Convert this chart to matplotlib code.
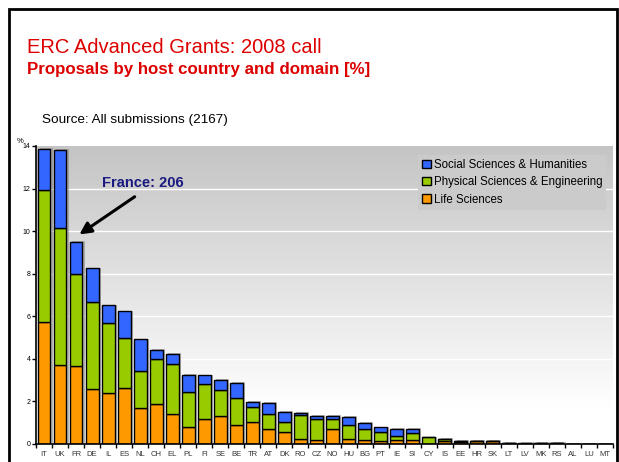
import numpy as np
import matplotlib
matplotlib.use("Agg")
import matplotlib.pyplot as plt
from matplotlib.patches import Patch, Rectangle

plt.rcParams['font.family'] = ['Liberation Sans', 'DejaVu Sans']

countries = ["IT", "UK", "FR", "DE", "IL", "ES", "NL", "CH", "EL", "PL", "FI", "SE",
             "BE", "TR", "AT", "DK", "RO", "CZ", "NO", "HU", "BG", "PT", "IE", "SI",
             "CY", "IS", "EE", "HR", "SK", "LT", "LV", "MK", "RS", "AL", "LU", "MT"]

# shares of all submissions [%]
life = [5.71, 3.72, 3.65, 2.58, 2.38, 2.61, 1.67, 1.89, 1.42, 0.78, 1.16, 1.31,
        0.91, 1.05, 0.69, 0.56, 0.23, 0.19, 0.69, 0.23, 0.17, 0.13, 0.17, 0.17,
        0.0, 0.14, 0.08, 0.14, 0.14, 0.0, 0.0, 0.0, 0.05, 0.0, 0.0, 0.0]
physical = [6.20, 6.41, 4.32, 4.09, 3.29, 2.35, 1.77, 2.09, 2.35, 1.68, 1.67, 1.21,
            1.23, 0.69, 0.73, 0.49, 1.13, 0.97, 0.47, 0.65, 0.55, 0.43, 0.22, 0.33,
            0.31, 0.09, 0.08, 0.0, 0.0, 0.05, 0.0, 0.05, 0.0, 0.0, 0.0, 0.0]
social = [1.97, 3.69, 1.53, 1.58, 0.84, 1.27, 1.47, 0.42, 0.46, 0.79, 0.39, 0.48,
          0.74, 0.22, 0.49, 0.45, 0.11, 0.15, 0.15, 0.40, 0.27, 0.22, 0.33, 0.19,
          0.0, 0.0, 0.0, 0.0, 0.0, 0.0, 0.05, 0.0, 0.0, 0.0, 0.0, 0.0]

c_life = "#FF9900"
c_phys = "#99CC00"
c_soc = "#3366FF"
red = "#DD0000"

fig = plt.figure(figsize=(6.19, 4.62), dpi=100)
fig.patch.set_facecolor("white")

# slide frame
fig.patches.append(Rectangle((9 / 619, -0.05), (617 - 9) / 619, 1.05 - 9 / 462,
                             transform=fig.transFigure, fill=False,
                             edgecolor="black", linewidth=2))

fig.text(27 / 619, 1 - 53 / 462, "ERC Advanced Grants: 2008 call", color=red,
         fontsize=14.5, va="baseline", ha="left")
fig.text(27 / 619, 1 - 74 / 462, "Proposals by host country and domain [%]",
         color=red, fontsize=12.2, fontweight="bold", va="baseline", ha="left")
fig.text(42 / 619, 1 - 123 / 462, "Source: All submissions (2167)", color="black",
         fontsize=9.7, va="baseline", ha="left")

ax = fig.add_axes([36 / 619, 18 / 462, (613 - 36) / 619, (444 - 146) / 462])

# gradient background
g = np.clip(np.linspace(1.0, 0.74, 200) + 0.03, 0, 1)
rgb = np.stack([g, g, g], axis=-1)[:, None, :]
ax.imshow(rgb, extent=(-0.5, len(countries) - 0.5, 0, 14),
          origin="lower", aspect="auto", zorder=0)
ax.set_xlim(-0.5, len(countries) - 0.5)
ax.set_ylim(0, 14)

for yv in range(2, 14, 2):
    ax.axhline(yv, color="white", linewidth=1.0, zorder=1)

x = np.arange(len(countries))
life = np.array(life)
physical = np.array(physical)
social = np.array(social)
total = life + physical + social
w = 0.8

# drop shadow
ax.bar(x + 0.14, total, width=w, bottom=0.04, color="#7f7f7f", alpha=0.55,
       linewidth=0, zorder=2)
ax.bar(x, life, width=w, color=c_life, edgecolor="black", linewidth=1, zorder=3)
ax.bar(x, physical, width=w, bottom=life, color=c_phys, edgecolor="black",
       linewidth=1, zorder=3)
ax.bar(x, social, width=w, bottom=life + physical, color=c_soc, edgecolor="black",
       linewidth=1, zorder=3)

for s in ["top", "right"]:
    ax.spines[s].set_visible(False)
ax.spines["left"].set_linewidth(1.2)
ax.spines["bottom"].set_linewidth(1.2)
ax.spines["left"].set_zorder(4)
ax.spines["bottom"].set_zorder(4)

ax.set_yticks(range(0, 15, 2))
ax.tick_params(axis="y", labelsize=5, length=3, width=1, pad=1, colors="black")
ax.set_xticks(x)
ax.set_xticklabels(countries)
ax.tick_params(axis="x", which="major", length=0, labelsize=5.5, pad=5,
               labelcolor="#333333")
ax.set_xticks(np.arange(-0.5, len(countries), 1), minor=True)
ax.tick_params(axis="x", which="minor", length=3, width=1)
ax.text(-0.033, 1.005, "%", transform=ax.transAxes, fontsize=5.5, ha="left", va="bottom")

ax.text(6.14, 12.25, "France: 206", color="#1A1A80", fontsize=10.5, fontweight="bold",
        ha="center", va="center", zorder=5)
ax.annotate("", xy=(2.06, 9.77), xytext=(5.8, 11.69),
            arrowprops=dict(arrowstyle="-|>,head_width=0.35,head_length=0.7",
                            color="black", linewidth=2.2), zorder=5)

handles = [Patch(facecolor=c_soc, edgecolor="black", label="Social Sciences & Humanities"),
           Patch(facecolor=c_phys, edgecolor="black", label="Physical Sciences & Engineering"),
           Patch(facecolor=c_life, edgecolor="black", label="Life Sciences")]
leg = ax.legend(handles=handles, loc="upper left", bbox_to_anchor=(0.652, 0.99),
                fontsize=8.3, frameon=True, facecolor="#cbcbcb", edgecolor="none",
                framealpha=1, fancybox=False, handlelength=0.75, handleheight=0.75,
                handletextpad=0.25, labelspacing=0.47, borderpad=0.35)
leg.set_zorder(6)

fig.savefig("out.png", dpi=100)
